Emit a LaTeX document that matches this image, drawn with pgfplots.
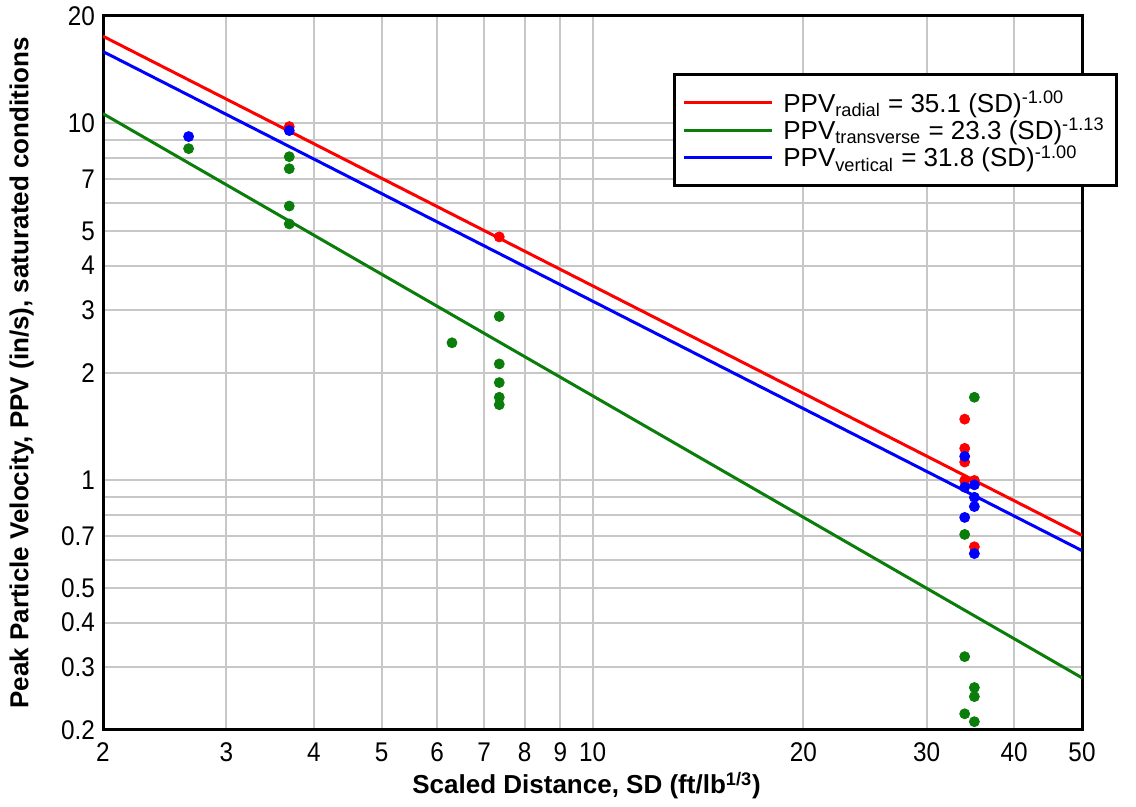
\documentclass[border=0pt]{standalone}
\usepackage{pgfplots}
\pgfplotsset{compat=1.18}
\usepackage{fontspec}
\setmainfont{Liberation Sans}
\definecolor{cred}{RGB}{255,0,0}
\definecolor{cgreen}{RGB}{10,125,10}
\definecolor{cblue}{RGB}{0,0,255}

\begin{document}
\begin{tikzpicture}
\useasboundingbox (-51.5pt,-38.5pt) rectangle (516.5pt,365pt);
\begin{axis}[
    at={(0,0)}, anchor=south west, scale only axis,
    width=489.5pt, height=357pt,
    xmode=log, ymode=log,
    xmin=2, xmax=50, ymin=0.2, ymax=20,
    xtick={2,3,4,5,6,7,8,9,10,20,30,40,50},
    xticklabels={2,3,4,5,6,7,8,9,10,20,30,40,50},
    ytick={0.2,0.3,0.4,0.5,0.7,1,2,3,4,5,7,10,20},
    yticklabels={0.2,0.3,0.4,0.5,0.7,1,2,3,4,5,7,10,20},
    minor ytick={0.6,0.8,0.9,6,8,9},
    minor xtick={},
    grid=both,
    major grid style={black!22, line width=1pt},
    minor grid style={black!22, line width=1pt},
    major tick length=0pt, minor tick length=0pt,
    axis line style={line width=1.5pt},
    tick label style={font=\fontsize{13.5}{15}\selectfont, xscale=0.9},
    xticklabel style={yshift=-3pt},
    yticklabel style={xshift=-1pt},
    xlabel={\textbf{Scaled Distance, SD (ft/lb\textsuperscript{1/3})}},
    ylabel={\textbf{Peak Particle Velocity, PPV (in/s), saturated conditions}},
    label style={font=\fontsize{13}{15}\selectfont},
    xlabel style={at={(axis description cs:0.494,-0.078)}, anchor=center},
    ylabel style={at={(axis description cs:-0.083,0.5)}, anchor=center},
    legend cell align=left,
    legend style={at={(1.037,0.92)}, anchor=north east, draw=black,
        line width=1.5pt, fill=white, font=\fontsize{13}{15}\selectfont,
        inner xsep=4pt, inner ysep=6pt, row sep=-2.5pt,
        /tikz/every odd column/.append style={column sep=3pt}},
    legend image code/.code={\draw[#1, line width=1.5pt] (0pt,0pt) -- (44pt,0pt);},
]

% fitted lines
\addplot[cred, line width=1.5pt] coordinates {(2,17.55) (50,0.702)};
\addlegendentry{PPV\textsubscript{radial} = 35.1 (SD)\textsuperscript{-1.00}}
\addplot[cgreen, line width=1.5pt] coordinates {(2,10.65) (50,0.280)};
\addlegendentry{PPV\textsubscript{transverse} = 23.3 (SD)\textsuperscript{-1.13}}
\addplot[cblue, line width=1.5pt] coordinates {(2,15.9) (50,0.636)};
\addlegendentry{PPV\textsubscript{vertical} = 31.8 (SD)\textsuperscript{-1.00}}

% measured points
\addplot[only marks, mark=*, mark size=2.5pt, cgreen, forget plot] coordinates {
    (2.65,8.5) (3.69,8.07) (3.69,7.47) (3.69,5.87) (3.69,5.23)
    (6.30,2.43) (7.36,2.88) (7.36,2.12) (7.36,1.88) (7.36,1.71) (7.36,1.63)
    (35.1,1.71) (34.0,0.706) (34.0,0.321) (35.1,0.263) (35.1,0.248)
    (34.0,0.222) (35.1,0.211)
};
\addplot[only marks, mark=*, mark size=2.5pt, cred, forget plot] coordinates {
    (3.69,9.8) (7.36,4.81) (34.0,1.485) (34.0,1.23) (34.0,1.126)
    (34.0,1.0) (35.1,1.0) (35.1,0.652)
};
\addplot[only marks, mark=*, mark size=2.5pt, cblue, forget plot] coordinates {
    (2.65,9.19) (3.69,9.55) (34.0,1.168) (34.0,0.957) (35.1,0.972)
    (35.1,0.897) (35.1,0.845) (34.0,0.788) (35.1,0.624)
};

\end{axis}
\end{tikzpicture}
\end{document}
